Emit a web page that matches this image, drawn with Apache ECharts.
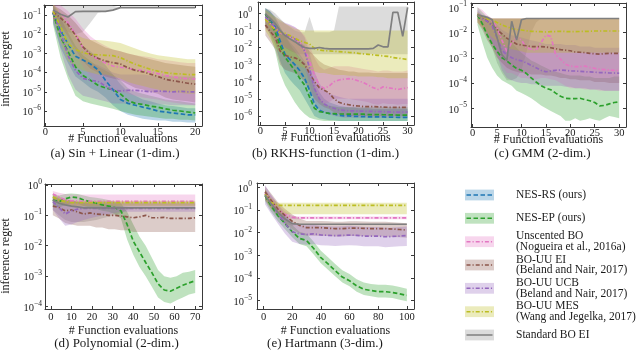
<!DOCTYPE html>
<html><head><meta charset="utf-8">
<script src="https://cdn.jsdelivr.net/npm/echarts@6/dist/echarts.min.js"></script>
<style>html,body{margin:0;padding:0;background:#fff}#c{width:640px;height:352px}</style>
</head><body><div id="c"></div>
<script>
// ---------- data ----------
const methodNames = ['NES-RS (ours)', 'NES-EP (ours)', 'Unscented BO\n(Nogueira et al., 2016a)', 'BO-UU EI\n(Beland and Nair, 2017)', 'BO-UU UCB\n(Beland and Nair, 2017)', 'BO-UU MES\n(Wang and Jegelka, 2017)', 'Standard BO EI'];
const captions = ['(a) Sin + Linear (1-dim.)', '(b) RKHS-function (1-dim.)', '(c) GMM (2-dim.)', '(d) Polynomial (2-dim.)', '(e) Hartmann (3-dim.)'];
const xAxisTitle = '# Function evaluations';
const yAxisTitle = 'inference regret';

const xTicksA = [0,5,10,15,20];
const xTicksB = [0,5,10,15,20,25,30];
const xTicksC = [0,5,10,15,20,25,30];
const xTicksD = [0,10,20,30,40,50,60,70];
const xTicksE = [0,20,40,60,80,100];

// (a) Sin + Linear
const xA = [1,2,3,4,5,6,7,8,9,10,11,12,13,14,15,16,17,18,19,20];
const aBlue = [0.13,0.016,3.2e-3,7.1e-4,4.5e-4,2.8e-4,1.4e-4,4e-5,1.3e-5,4e-6,2.5e-6,2e-6,1.6e-6,1.3e-6,1e-6,8.9e-7,7.9e-7,7.1e-7,6.3e-7,6.3e-7];
const aBlueHi = [0.32,0.1,0.025,6.3e-3,2.5e-3,1.3e-3,6.3e-4,2.5e-4,7.9e-5,2.5e-5,1e-5,6.3e-6,4e-6,3.2e-6,2.5e-6,2e-6,1.8e-6,1.6e-6,1.4e-6,1.4e-6];
const aBlueLo = [0.04,2e-3,3.2e-4,6.3e-5,3.2e-5,1.6e-5,1e-5,5e-6,2e-6,1e-6,6.3e-7,5e-7,4e-7,3.5e-7,3.2e-7,3.2e-7,2.8e-7,2.8e-7,2.5e-7,2.5e-7];
const aGreen = [0.13,7.1e-3,1.3e-3,2e-4,7.1e-5,4e-5,2.2e-5,1.6e-5,1.3e-5,7.9e-6,3.5e-6,2.5e-6,2.2e-6,1.8e-6,1.6e-6,1.3e-6,1.1e-6,1e-6,8.9e-7,7.9e-7];
const aGreenHi = [0.32,0.063,0.013,2.5e-3,7.9e-4,4e-4,2e-4,1.3e-4,7.9e-5,4e-5,1.6e-5,1e-5,7.9e-6,6.3e-6,5e-6,4e-6,3.5e-6,3.2e-6,2.8e-6,2.5e-6];
const aGreenLo = [0.032,6.3e-4,5e-5,6.3e-6,3.2e-6,2.5e-6,2e-6,1.6e-6,1.3e-6,1e-6,7.9e-7,6.3e-7,5.6e-7,5e-7,4.5e-7,4e-7,4e-7,3.5e-7,3.5e-7,3.2e-7];
const aPink = [0.17,0.13,0.04,0.01,2e-3,7.9e-4,5e-4,3.2e-4,2.2e-4,1.9e-4,1.7e-4,1.4e-4,1.3e-4,1.05e-4,8.9e-5,7.1e-5,6e-5,5.2e-5,4.8e-5,4.7e-5];
const aPinkHi = [0.4,0.32,0.16,0.063,0.02,7.9e-3,4e-3,2.5e-3,1.6e-3,1.3e-3,1e-3,7.9e-4,7.1e-4,6.3e-4,5e-4,4.5e-4,4e-4,3.5e-4,3.2e-4,3.2e-4];
const aPinkLo = [0.063,0.032,6.3e-3,1e-3,2e-4,6.3e-5,3.2e-5,2e-5,1.3e-5,1e-5,7.9e-6,6.3e-6,5e-6,4.5e-6,4e-6,3.2e-6,2.8e-6,2.5e-6,2.2e-6,2e-6];
const aBrown = [0.145,0.071,0.032,8.7e-3,2.2e-3,8.9e-4,5.6e-4,4e-4,3.3e-4,2.8e-4,1.8e-4,1.3e-4,1.1e-4,8.3e-5,6.3e-5,4.5e-5,3.8e-5,3.3e-5,2.8e-5,2.5e-5];
const aBrownHi = [0.32,0.2,0.1,0.04,0.013,5e-3,3.2e-3,2e-3,1.6e-3,1.3e-3,1e-3,7.9e-4,6.3e-4,5e-4,4e-4,3.2e-4,2.8e-4,2.5e-4,2.2e-4,2e-4];
const aBrownLo = [0.063,0.025,7.9e-3,1.6e-3,4e-4,1.6e-4,1e-4,6.3e-5,5e-5,4e-5,2.5e-5,1.6e-5,1.3e-5,1e-5,7.9e-6,5e-6,4e-6,3.5e-6,3.2e-6,2.8e-6];
const aPurple = [0.14,0.013,7.9e-4,1.3e-4,5e-5,4e-5,3.5e-5,2e-5,1.2e-5,1.1e-5,1.2e-5,1.2e-5,1.1e-5,1e-5,1.1e-5,1.05e-5,1e-5,1.05e-5,1e-5,1e-5];
const aPurpleHi = [0.4,0.1,0.01,1.6e-3,5e-4,3.2e-4,2.5e-4,1.6e-4,1e-4,7.9e-5,7.9e-5,7.9e-5,7.9e-5,7.1e-5,7.1e-5,7.1e-5,6.3e-5,6.3e-5,6.3e-5,6.3e-5];
const aPurpleLo = [0.05,1.6e-3,7.9e-5,1.3e-5,6.3e-6,5e-6,4e-6,3.2e-6,2.5e-6,2.5e-6,2.5e-6,2.5e-6,2.2e-6,2.2e-6,2.2e-6,2.2e-6,2e-6,2e-6,2e-6,2e-6];
const aOlive = [0.16,0.025,3.2e-3,1.6e-3,1.1e-3,8.9e-4,8.5e-4,7.9e-4,7.6e-4,6e-4,4e-4,2.7e-4,2e-4,1.5e-4,1.2e-4,1e-4,8.9e-5,8.5e-5,7.9e-5,7.9e-5];
const aOliveHi = [0.4,0.13,0.025,0.01,6.3e-3,5e-3,5e-3,4.5e-3,4e-3,3.5e-3,2.5e-3,1.8e-3,1.3e-3,1e-3,7.9e-4,7.1e-4,6.3e-4,5.6e-4,5e-4,5e-4];
const aOliveLo = [0.063,4e-3,4e-4,2e-4,1.3e-4,1e-4,7.9e-5,7.9e-5,6.3e-5,5e-5,3.2e-5,2.5e-5,2e-5,1.6e-5,1.3e-5,1e-5,1e-5,8.9e-6,7.9e-6,7.9e-6];
const aGray = [0.18,0.11,0.079,0.15,0.155,0.155,0.155,0.155,0.18,0.24,0.24,0.24,0.24,0.24,0.24,0.24,0.24,0.24,0.24,0.24];
const aGrayHi = [1,1,1,1,1,1,1,1,0.3,0.24,0.24,0.24,0.24,0.24,0.24,0.24,0.24,0.24,0.24,0.24];
const aGrayLo = [0.063,0.025,0.013,0.01,0.013,0.04,0.13,0.155,0.18,0.24,0.24,0.24,0.24,0.24,0.24,0.24,0.24,0.24,0.24,0.24];

// (b) RKHS-function
const xB = [1,2,3,4,5,6,7,8,9,10,11,12,13,14,15,16,17,18,19,20,21,22,23,24,25,26,27,28,29,30];
const bBlue = [0.89,0.4,0.16,0.025,4e-3,2e-3,1e-3,4.5e-4,1.6e-4,3.2e-5,5e-6,2.2e-6,1.6e-6,1.4e-6,1.3e-6,1.1e-6,1e-6,1e-6,9.5e-7,9.3e-7,9.1e-7,8.9e-7,8.9e-7,8.7e-7,8.7e-7,8.5e-7,8.5e-7,8.3e-7,8.3e-7,8.3e-7];
const bBlueHi = [2,1.26,0.63,0.16,0.05,0.02,0.01,4e-3,1.6e-3,5e-4,1e-4,2.5e-5,1e-5,6.3e-6,5e-6,4e-6,3.5e-6,3.2e-6,3.2e-6,2.8e-6,2.8e-6,2.8e-6,2.5e-6,2.5e-6,2.5e-6,2.5e-6,2.5e-6,2.5e-6,2.5e-6,2.5e-6];
const bBlueLo = [0.16,0.063,0.016,1.6e-3,3.2e-4,1.3e-4,6.3e-5,3.2e-5,1e-5,3.2e-6,1e-6,7.1e-7,6.3e-7,5.6e-7,5.6e-7,5e-7,5e-7,5e-7,5e-7,5e-7,5e-7,5e-7,5e-7,5e-7,5e-7,5e-7,5e-7,5e-7,5e-7,5e-7];
const bGreen = [0.89,0.32,0.079,0.013,2.8e-3,1.1e-3,4.5e-4,1.6e-4,6.3e-5,1.3e-5,2.8e-6,1.8e-6,1.6e-6,1.4e-6,1.35e-6,1.3e-6,1.3e-6,1.26e-6,1.26e-6,1.26e-6,1.26e-6,1.2e-6,1.2e-6,1.2e-6,1.17e-6,1.17e-6,1.15e-6,1.12e-6,1.12e-6,1.12e-6];
const bGreenHi = [2,1.26,0.5,0.16,0.05,0.016,6.3e-3,2.5e-3,1e-3,2.5e-4,5e-5,1e-5,5e-6,4e-6,3.5e-6,3.2e-6,3.2e-6,3.2e-6,3.2e-6,3.2e-6,3.2e-6,3.2e-6,3.2e-6,3.2e-6,3.2e-6,3.2e-6,3.2e-6,3.2e-6,3.2e-6,3.2e-6];
const bGreenLo = [0.25,0.05,6.3e-3,3.2e-4,6.3e-5,2e-5,6.3e-6,2.5e-6,1.3e-6,7.9e-7,6.3e-7,5.6e-7,5e-7,5e-7,5e-7,5e-7,5e-7,5e-7,5e-7,5e-7,5e-7,5e-7,5e-7,5e-7,5e-7,5e-7,5e-7,5e-7,5e-7,5e-7];
const bPink = [0.45,0.25,0.13,0.071,0.056,0.045,0.032,0.02,7.9e-3,1.6e-3,2.5e-4,6.3e-5,4e-5,5.6e-5,1e-4,1.26e-4,1.4e-4,1.5e-4,1.4e-4,1.1e-4,8.9e-5,6.3e-5,4.5e-5,3.5e-5,5e-5,4.5e-5,4e-5,3.5e-5,4e-5,4.5e-5];
const bPinkHi = [1.26,0.79,0.5,0.32,0.25,0.2,0.16,0.1,0.05,0.013,2.5e-3,7.9e-4,5e-4,6.3e-4,7.9e-4,7.9e-4,7.9e-4,7.9e-4,7.1e-4,6.3e-4,5.6e-4,5e-4,4.5e-4,4e-4,4.5e-4,4.5e-4,4e-4,4e-4,4e-4,4.5e-4];
const bPinkLo = [0.13,0.063,0.025,0.013,0.01,7.9e-3,5e-3,3.2e-3,1e-3,2e-4,3.2e-5,7.9e-6,5e-6,6.3e-6,1e-5,1e-5,1e-5,1e-5,8.9e-6,7.9e-6,7.1e-6,6.3e-6,5e-6,4.5e-6,5.6e-6,5e-6,5e-6,4.5e-6,5e-6,5e-6];
const bBrown = [0.21,0.085,0.04,6.3e-3,3.5e-3,2.8e-3,2.5e-3,1.8e-3,1e-3,3.2e-4,1e-4,4.5e-5,3.2e-5,2.2e-5,1e-5,6.3e-6,5e-6,4.5e-6,4e-6,3.8e-6,3.5e-6,3.5e-6,3.5e-6,3.4e-6,3.3e-6,3.2e-6,3.2e-6,3.2e-6,3.2e-6,3.2e-6];
const bBrownHi = [1,0.5,0.32,0.1,0.05,0.032,0.025,0.02,0.013,6.3e-3,3.2e-3,1.6e-3,1e-3,7.9e-4,6.3e-4,5e-4,4.5e-4,4e-4,4e-4,3.5e-4,3.5e-4,3.5e-4,3.2e-4,3.2e-4,3.2e-4,3.2e-4,3.2e-4,3.2e-4,3.2e-4,3.2e-4];
const bBrownLo = [0.05,0.02,7.9e-3,1e-3,5e-4,4e-4,3.2e-4,2e-4,1e-4,3.2e-5,1e-5,5e-6,3.2e-6,2.5e-6,1.6e-6,1.3e-6,1.1e-6,1e-6,1e-6,1e-6,1e-6,1e-6,1e-6,1e-6,1e-6,1e-6,1e-6,1e-6,1e-6,1e-6];
const bPurple = [0.63,0.32,0.14,0.079,0.056,0.045,0.032,0.018,6.3e-3,6.3e-4,4e-5,1e-5,5e-6,3.5e-6,2.8e-6,2.2e-6,2.1e-6,2e-6,2e-6,1.9e-6,1.9e-6,1.86e-6,1.82e-6,1.78e-6,1.78e-6,1.74e-6,1.7e-6,1.66e-6,1.66e-6,1.7e-6];
const bPurpleHi = [2,1.26,0.63,0.4,0.28,0.22,0.16,0.1,0.04,5e-3,4e-4,7.9e-5,3.2e-5,2e-5,1.6e-5,1.3e-5,1.1e-5,1e-5,1e-5,1e-5,1e-5,1e-5,1e-5,1e-5,1e-5,1e-5,1e-5,1e-5,1e-5,1e-5];
const bPurpleLo = [0.16,0.079,0.032,0.016,0.01,7.9e-3,5e-3,2.5e-3,7.9e-4,7.9e-5,6.3e-6,2.5e-6,1.6e-6,1.3e-6,1e-6,8.9e-7,7.9e-7,7.9e-7,7.9e-7,7.9e-7,7.9e-7,7.9e-7,7.9e-7,7.9e-7,7.9e-7,7.9e-7,7.9e-7,7.9e-7,7.9e-7,7.9e-7];
const bOlive = [0.45,0.2,0.11,0.079,0.068,0.05,0.035,0.025,0.02,0.016,8.9e-3,7.1e-3,6.6e-3,6.3e-3,6e-3,5.8e-3,5.5e-3,5.2e-3,5e-3,4.5e-3,4.2e-3,4e-3,3.7e-3,3.5e-3,3.2e-3,3e-3,2.6e-3,2.4e-3,2.2e-3,2e-3];
const bOliveHi = [1.6,1,0.63,0.4,0.25,0.18,0.13,0.11,0.1,0.1,0.1,0.1,0.1,0.1,0.1,0.1,0.1,0.1,0.1,0.1,0.1,0.1,0.1,0.1,0.1,0.1,0.1,0.1,0.1,0.1];
const bOliveLo = [0.1,0.032,0.01,5e-3,3.2e-3,2e-3,1.3e-3,7.9e-4,6.3e-4,5e-4,4e-4,3.2e-4,3.2e-4,2.8e-4,2.5e-4,2.5e-4,2.5e-4,2.2e-4,2.2e-4,2e-4,2e-4,2e-4,2e-4,1.8e-4,1.8e-4,1.6e-4,1.6e-4,1.6e-4,1.6e-4,1.6e-4];
const bGray = [0.89,0.5,0.25,0.1,0.05,0.032,0.022,0.014,0.01,8.9e-3,8.9e-3,0.01,8.9e-3,8.3e-3,8.3e-3,8.3e-3,8.3e-3,8.3e-3,8.3e-3,8.3e-3,8.3e-3,8.3e-3,8.9e-3,0.014,0.011,0.011,1.12,1.12,0.045,2.24];
const bGrayHi = [2,1.6,1,0.5,0.25,0.16,0.1,0.079,0.079,0.63,0.079,0.079,0.079,0.079,0.1,2.5,2.5,2.5,2.5,2.5,2.5,2.5,2.5,2.5,2.5,2.5,2.5,2.5,2.5,2.5];
const bGrayLo = [0.4,0.16,0.063,0.025,0.01,6.3e-3,5e-3,4e-3,4e-3,4e-3,4e-3,4e-3,4e-3,4e-3,4e-3,4e-3,4e-3,4e-3,4e-3,4e-3,4e-3,4e-3,4e-3,4e-3,4e-3,4e-3,4e-3,4e-3,4e-3,4e-3];

// (c) GMM
const xC = [1,2,3,4,5,6,7,8,9,10,11,12,13,14,15,16,17,18,19,20,21,22,23,24,25,26,27,28,29,30];
const cGreen = [0.05,0.022,7.9e-3,3.5e-3,1.8e-3,1e-3,7.6e-4,5.2e-4,3.8e-4,3.2e-4,2.4e-4,1.6e-4,1.1e-4,7.9e-5,6.3e-5,5.4e-5,4e-5,3e-5,2.5e-5,2.4e-5,2.4e-5,2.5e-5,2.2e-5,2e-5,1.7e-5,1.26e-5,1.3e-5,1.5e-5,1.7e-5,1.8e-5];
const cGreenHi = [0.1,0.063,0.04,0.025,0.016,0.01,6.3e-3,4e-3,2.5e-3,1.6e-3,1.1e-3,7.9e-4,6.3e-4,5e-4,4e-4,3.2e-4,2.8e-4,2.5e-4,2.2e-4,2e-4,2e-4,2e-4,1.8e-4,1.8e-4,1.6e-4,1.6e-4,1.6e-4,1.6e-4,1.8e-4,1.8e-4];
const cGreenLo = [0.02,4e-3,1e-3,4e-4,2e-4,1.3e-4,1e-4,7.9e-5,5e-5,4e-5,3.2e-5,2.5e-5,1.8e-5,1.3e-5,1e-5,7.9e-6,6.3e-6,5e-6,3.2e-6,3.2e-6,4e-6,3.2e-6,3.5e-6,4e-6,3.5e-6,3.2e-6,4e-6,5e-6,4.5e-6,4e-6];
const cPink = [0.05,0.042,0.036,0.028,0.016,5e-3,1.8e-3,4e-3,6.3e-3,5e-3,2.5e-3,2.2e-3,2e-3,4e-3,7.9e-3,7.1e-3,1.3e-3,8.9e-4,5.6e-4,4.7e-4,4.5e-4,4.5e-4,4.7e-4,4.2e-4,3.8e-4,3.5e-4,3.4e-4,3.3e-4,3.2e-4,3.2e-4];
const cPinkHi = [0.1,0.079,0.05,0.036,0.036,0.036,0.036,0.036,0.036,0.036,0.036,0.036,0.036,0.036,0.036,0.036,0.036,0.036,0.036,0.036,0.036,0.036,0.036,0.036,0.036,0.036,0.036,0.036,0.036,0.036];
const cPinkLo = [0.025,0.016,0.01,4e-3,1.3e-3,5e-4,2.5e-4,2.5e-4,2e-4,1.6e-4,1.6e-4,1.4e-4,1.4e-4,1.6e-4,1.6e-4,1.4e-4,1.3e-4,1e-4,7.9e-5,6.3e-5,6.3e-5,6.3e-5,5.6e-5,5.6e-5,5.6e-5,5e-5,5e-5,5e-5,5e-5,5e-5];
const cBrown = [0.05,0.04,0.028,0.02,0.013,8.9e-3,6e-3,4.5e-3,3.5e-3,3.2e-3,3e-3,2.8e-3,2.75e-3,2.75e-3,2.7e-3,2.5e-3,2.3e-3,2.1e-3,2e-3,1.9e-3,1.7e-3,1.66e-3,1.6e-3,1.5e-3,1.45e-3,1.4e-3,1.45e-3,1.5e-3,1.5e-3,1.5e-3];
const cBrownHi = [0.063,0.045,0.036,0.036,0.036,0.036,0.036,0.036,0.036,0.036,0.036,0.036,0.036,0.036,0.036,0.036,0.036,0.036,0.036,0.036,0.036,0.036,0.036,0.036,0.036,0.036,0.036,0.036,0.036,0.036];
const cBrownLo = [0.025,0.013,5e-3,2.5e-3,1e-3,6.3e-4,4e-4,3.2e-4,2.8e-4,2.5e-4,2.5e-4,2.2e-4,2.2e-4,2.2e-4,2e-4,2e-4,1.8e-4,1.6e-4,1.6e-4,1.4e-4,1.4e-4,1.3e-4,1.3e-4,1.3e-4,1.1e-4,1.1e-4,1.1e-4,1e-4,1e-4,1e-4];
const cPurple = [0.05,0.035,0.028,0.018,6.3e-3,2e-3,1.3e-3,1e-3,8.5e-4,7.6e-4,6.3e-4,5e-4,4e-4,3.2e-4,2.8e-4,3e-4,3.2e-4,3.3e-4,3.2e-4,3e-4,3e-4,2.9e-4,2.8e-4,2.75e-4,2.7e-4,2.6e-4,2.6e-4,2.5e-4,2.5e-4,2.45e-4];
const cPurpleHi = [0.079,0.05,0.036,0.032,0.02,0.013,0.01,7.9e-3,7.1e-3,6.3e-3,5.6e-3,5e-3,4.5e-3,4e-3,3.5e-3,3.5e-3,3.5e-3,3.5e-3,3.2e-3,3.2e-3,3.2e-3,2.8e-3,2.8e-3,2.8e-3,2.5e-3,2.5e-3,2.5e-3,2.5e-3,2.5e-3,2.5e-3];
const cPurpleLo = [0.032,0.02,0.01,4e-3,1.3e-3,3.2e-4,1.6e-4,1.3e-4,1.1e-4,1e-4,1e-4,8.9e-5,8.9e-5,7.9e-5,7.9e-5,7.9e-5,7.9e-5,7.9e-5,7.1e-5,7.1e-5,6.3e-5,6.3e-5,6.3e-5,5.6e-5,5.6e-5,5.6e-5,5e-5,5e-5,5e-5,5e-5];
const cOlive = [0.05,0.042,0.035,0.032,0.025,0.02,0.017,0.0145,0.013,0.0126,0.0117,0.0112,0.011,0.0108,0.0105,0.0108,0.011,0.0112,0.011,0.0108,0.0108,0.011,0.0112,0.0112,0.0115,0.0115,0.0115,0.0115,0.0115,0.0115];
const cOliveHi = [0.063,0.045,0.036,0.036,0.036,0.036,0.036,0.036,0.036,0.036,0.036,0.036,0.036,0.036,0.036,0.036,0.036,0.036,0.036,0.036,0.036,0.036,0.036,0.036,0.036,0.036,0.036,0.036,0.036,0.036];
const cOliveLo = [0.025,0.016,0.01,6.3e-3,4.5e-3,3.2e-3,2.5e-3,2.2e-3,2e-3,1.8e-3,1.6e-3,1.6e-3,1.6e-3,1.6e-3,1.6e-3,1.6e-3,1.6e-3,1.6e-3,1.6e-3,1.6e-3,1.6e-3,1.6e-3,1.6e-3,1.6e-3,1.6e-3,1.6e-3,1.6e-3,1.6e-3,1.6e-3,1.6e-3];
const cGray = [0.05,0.045,0.04,0.032,6.3e-3,1.3e-3,7.9e-4,0.028,5e-3,0.032,0.036,0.036,0.036,0.036,0.036,0.036,0.036,0.036,0.036,0.036,0.036,0.036,0.036,0.036,0.036,0.036,0.036,0.036,0.036,0.036];
const cGrayHi = [0.055,0.05,0.045,0.036,0.036,0.036,0.036,0.036,0.036,0.036,0.036,0.036,0.036,0.036,0.036,0.036,0.036,0.036,0.036,0.036,0.036,0.036,0.036,0.036,0.036,0.036,0.036,0.036,0.036,0.036];
const cGrayLo = [0.032,0.016,6.3e-3,2.5e-3,6.3e-4,2.5e-4,1.3e-4,1.3e-4,1.6e-4,3.2e-4,1.6e-3,0.01,0.025,0.036,0.036,0.036,0.036,0.036,0.036,0.036,0.036,0.036,0.036,0.036,0.036,0.036,0.036,0.036,0.036,0.036];

// (d) Polynomial
const xD = [1,4,7,10,13,16,19,22,25,28,31,34,37,40,43,46,49,52,55,58,61,64,67,70];
const dGreen = [0.32,0.28,0.35,0.4,0.38,0.32,0.28,0.25,0.22,0.2,0.18,0.14,0.05,0.014,6.3e-3,2.8e-3,1.3e-3,5.6e-4,3.5e-4,3.2e-4,4e-4,5e-4,6e-4,7.1e-4];
const dGreenHi = [0.5,0.45,0.5,0.52,0.5,0.45,0.4,0.38,0.35,0.32,0.28,0.25,0.13,0.05,0.02,0.01,4e-3,1.6e-3,1e-3,8.9e-4,1e-3,1.3e-3,1.4e-3,1.6e-3];
const dGreenLo = [0.2,0.18,0.22,0.25,0.25,0.2,0.18,0.16,0.14,0.13,0.11,0.079,0.016,5e-3,2e-3,1e-3,4.5e-4,2e-4,1.4e-4,1.26e-4,1.6e-4,2e-4,2.5e-4,2.8e-4];
const dPink = [0.5,0.4,0.32,0.3,0.29,0.29,0.29,0.29,0.29,0.29,0.29,0.29,0.29,0.29,0.29,0.29,0.29,0.29,0.29,0.29,0.29,0.29,0.29,0.29];
const dPinkHi = [0.63,0.55,0.5,0.48,0.48,0.48,0.48,0.48,0.48,0.48,0.48,0.48,0.48,0.48,0.48,0.48,0.48,0.48,0.48,0.48,0.48,0.48,0.48,0.48];
const dPinkLo = [0.3,0.25,0.22,0.21,0.21,0.21,0.21,0.21,0.21,0.21,0.21,0.21,0.21,0.21,0.21,0.21,0.21,0.21,0.21,0.21,0.21,0.21,0.21,0.21];
const dBrown = [0.2,0.18,0.14,0.15,0.13,0.11,0.12,0.11,0.107,0.1,0.1,0.095,0.089,0.083,0.089,0.1,0.083,0.083,0.085,0.079,0.079,0.079,0.079,0.083];
const dBrownHi = [0.4,0.35,0.32,0.32,0.28,0.28,0.28,0.28,0.28,0.28,0.28,0.28,0.28,0.28,0.28,0.28,0.28,0.28,0.28,0.28,0.28,0.28,0.28,0.28];
const dBrownLo = [0.1,0.079,0.056,0.05,0.045,0.045,0.045,0.04,0.04,0.035,0.035,0.032,0.032,0.028,0.028,0.028,0.028,0.028,0.028,0.028,0.028,0.028,0.028,0.028];
const dPurple = [0.28,0.18,0.11,0.14,0.16,0.17,0.17,0.17,0.17,0.17,0.17,0.17,0.17,0.17,0.17,0.17,0.17,0.17,0.17,0.17,0.17,0.17,0.17,0.17];
const dPurpleHi = [0.45,0.35,0.28,0.28,0.27,0.26,0.25,0.25,0.25,0.25,0.25,0.25,0.25,0.25,0.25,0.25,0.25,0.25,0.25,0.25,0.25,0.25,0.25,0.25];
const dPurpleLo = [0.15,0.08,0.045,0.05,0.06,0.07,0.08,0.09,0.1,0.11,0.12,0.13,0.13,0.13,0.13,0.13,0.13,0.13,0.13,0.13,0.13,0.13,0.13,0.13];
const dOlive = [0.4,0.32,0.28,0.26,0.26,0.26,0.26,0.26,0.26,0.26,0.26,0.26,0.26,0.26,0.26,0.26,0.26,0.26,0.26,0.26,0.26,0.26,0.26,0.26];
const dOliveHi = [0.5,0.4,0.33,0.3,0.3,0.3,0.3,0.3,0.3,0.3,0.3,0.3,0.3,0.3,0.3,0.3,0.3,0.3,0.3,0.3,0.3,0.3,0.3,0.3];
const dOliveLo = [0.3,0.24,0.21,0.2,0.2,0.2,0.2,0.2,0.2,0.2,0.2,0.2,0.2,0.2,0.2,0.2,0.2,0.2,0.2,0.2,0.2,0.2,0.2,0.2];
const dGray = [0.32,0.25,0.22,0.2,0.19,0.175,0.175,0.175,0.175,0.175,0.175,0.175,0.175,0.175,0.175,0.175,0.175,0.175,0.175,0.175,0.175,0.175,0.175,0.175];
const dGrayHi = [0.45,0.4,0.35,0.3,0.28,0.26,0.25,0.24,0.23,0.22,0.21,0.2,0.19,0.18,0.175,0.175,0.175,0.175,0.175,0.175,0.175,0.175,0.175,0.175];
const dGrayLo = [0.15,0.1,0.07,0.06,0.06,0.06,0.065,0.07,0.08,0.09,0.1,0.12,0.15,0.17,0.175,0.175,0.175,0.175,0.175,0.175,0.175,0.175,0.175,0.175];

// (e) Hartmann
const xE = [1,5,10,15,20,25,30,35,40,45,50,55,60,65,70,75,80,85,90,95,100];
const eGreen = [0.43,0.16,0.056,0.025,0.011,5.6e-3,4.5e-3,2e-3,7.9e-4,4.2e-4,2.1e-4,1.1e-4,7.6e-5,4.5e-5,3.2e-5,2.8e-5,2.5e-5,2.5e-5,2.3e-5,2e-5,1.7e-5];
const eGreenHi = [0.85,0.32,0.11,0.05,0.022,0.011,8.9e-3,4e-3,1.6e-3,8.3e-4,4.2e-4,2.2e-4,1.5e-4,8.9e-5,6.3e-5,5.5e-5,5e-5,5e-5,4.7e-5,4e-5,3.4e-5];
const eGreenLo = [0.24,0.089,0.032,0.014,6.3e-3,3.2e-3,2.5e-3,1.1e-3,4.5e-4,2.3e-4,1.2e-4,6.3e-5,4.3e-5,2.5e-5,1.8e-5,1.55e-5,1.4e-5,1.4e-5,1.3e-5,1.1e-5,9.5e-6];
const ePink = [0.56,0.28,0.11,0.063,0.047,0.045,0.045,0.045,0.045,0.045,0.045,0.045,0.045,0.045,0.045,0.045,0.045,0.045,0.045,0.045,0.045];
const ePinkHi = [0.8,0.45,0.18,0.085,0.056,0.052,0.052,0.052,0.052,0.052,0.052,0.052,0.052,0.052,0.052,0.052,0.052,0.052,0.052,0.052,0.052];
const ePinkLo = [0.35,0.18,0.065,0.045,0.04,0.039,0.039,0.039,0.039,0.039,0.039,0.039,0.039,0.039,0.039,0.039,0.039,0.039,0.039,0.039,0.039];
const eBrown = [0.63,0.28,0.11,0.056,0.032,0.021,0.0166,0.0166,0.0166,0.0158,0.0151,0.0151,0.0158,0.0158,0.0155,0.0151,0.0151,0.0151,0.0145,0.0138,0.0132];
const eBrownHi = [1.12,0.56,0.22,0.11,0.063,0.042,0.033,0.033,0.033,0.032,0.03,0.03,0.032,0.032,0.031,0.03,0.03,0.03,0.029,0.0275,0.026];
const eBrownLo = [0.28,0.126,0.05,0.025,0.014,9.3e-3,7.4e-3,7.4e-3,7.4e-3,7.1e-3,6.8e-3,6.8e-3,7.1e-3,7.1e-3,6.9e-3,6.8e-3,6.8e-3,6.8e-3,6.5e-3,6.2e-3,5.9e-3];
const ePurple = [0.5,0.2,0.071,0.025,0.011,8.9e-3,8.3e-3,8.9e-3,7.9e-3,7.6e-3,7.4e-3,7.6e-3,7.9e-3,7.6e-3,7.1e-3,7.1e-3,7.1e-3,6.6e-3,6.8e-3,7.1e-3,7.4e-3];
const ePurpleHi = [1.26,0.5,0.18,0.063,0.028,0.022,0.021,0.022,0.02,0.019,0.0185,0.019,0.02,0.019,0.018,0.018,0.018,0.0165,0.017,0.018,0.0185];
const ePurpleLo = [0.18,0.071,0.025,8.9e-3,4e-3,3.2e-3,2.9e-3,3.2e-3,2.8e-3,2.7e-3,2.6e-3,2.7e-3,2.8e-3,2.7e-3,2.5e-3,2.5e-3,2.5e-3,2.3e-3,2.4e-3,2.5e-3,2.6e-3];
const eOlive = [0.5,0.22,0.16,0.16,0.16,0.16,0.16,0.16,0.16,0.16,0.16,0.16,0.16,0.16,0.16,0.16,0.16,0.16,0.16,0.16,0.16];
const eOliveHi = [0.8,0.35,0.21,0.21,0.21,0.21,0.21,0.21,0.21,0.21,0.21,0.21,0.21,0.21,0.21,0.21,0.21,0.21,0.21,0.21,0.21];
const eOliveLo = [0.3,0.12,0.065,0.065,0.065,0.065,0.065,0.065,0.065,0.065,0.065,0.065,0.065,0.065,0.065,0.065,0.065,0.065,0.065,0.065,0.065];
const eGray = [0.45,0.2,0.079,0.04,0.025,0.0235,0.0235,0.0235,0.0235,0.0235,0.0235,0.0235,0.0235,0.0235,0.0235,0.0235,0.0235,0.0235,0.0235,0.0235,0.0235];
const eGrayHi = [0.7,0.32,0.13,0.06,0.032,0.0235,0.0235,0.0235,0.0235,0.0235,0.0235,0.0235,0.0235,0.0235,0.0235,0.0235,0.0235,0.0235,0.0235,0.0235,0.0235];
const eGrayLo = [0.28,0.12,0.045,0.025,0.02,0.0235,0.0235,0.0235,0.0235,0.0235,0.0235,0.0235,0.0235,0.0235,0.0235,0.0235,0.0235,0.0235,0.0235,0.0235,0.0235];

// ---------- styling ----------
const FONT = '"Liberation Serif", "Times New Roman", serif';
const TXT = '#1a1a1a';
const AXC = '#3a3a3a';
const COLORS = ['#1f77b4','#2ca02c','#e377c2','#8c564b','#9467bd','#bcbd22','#7f7f7f'];
const DASHES = [[4.5,2.5],[4.5,2.5],[4,2,1.2,2],[4,2,1.2,2],[4,2,1.2,2],[4,2,1.2,2],'solid'];
const BAND_ALPHA = 0.3;
function rgba(hex, a) {
  const n = parseInt(hex.slice(1), 16);
  return 'rgba(' + ((n >> 16) & 255) + ',' + ((n >> 8) & 255) + ',' + (n & 255) + ',' + a + ')';
}

const panels = [
  { grid: [44, 5, 158, 121], xr: [-0.2, 20.9], yr: [1.66e-7, 0.331], xt: xTicksA, xs: xA, ylm: 3, xlm: 1, ng: 7,
    items: [[6, aGray, aGrayLo, aGrayHi],[0, aBlue, aBlueLo, aBlueHi],[1, aGreen, aGreenLo, aGreenHi],[2, aPink, aPinkLo, aPinkHi],[3, aBrown, aBrownLo, aBrownHi],[4, aPurple, aPurpleLo, aPurpleHi],[5, aOlive, aOliveLo, aOliveHi]] },
  { grid: [258, 2, 156, 123], xr: [-0.5, 31.3], yr: [2.95e-7, 4.57], xt: xTicksB, xs: xB, ylm: 6, xlm: 1, ng: 7,
    items: [[6, bGray, bGrayLo, bGrayHi],[0, bBlue, bBlueLo, bBlueHi],[1, bGreen, bGreenLo, bGreenHi],[2, bPink, bPinkLo, bPinkHi],[3, bBrown, bBrownLo, bBrownHi],[4, bPurple, bPurpleLo, bPurpleHi],[5, bOlive, bOliveLo, bOliveHi]] },
  { grid: [471, 3, 155, 124], xr: [-0.33, 31.4], yr: [1.82e-6, 0.148], xt: xTicksC, xs: xC, ylm: 4, xlm: 1, ng: 7,
    items: [[6, cGray, cGrayLo, cGrayHi],[1, cGreen, cGreenLo, cGreenHi],[2, cPink, cPinkLo, cPinkHi],[3, cBrown, cBrownLo, cBrownHi],[4, cPurple, cPurpleLo, cPurpleHi],[5, cOlive, cOliveLo, cOliveHi]] },
  { grid: [45, 184, 157, 125], xr: [-2.8, 73.3], yr: [8.3e-5, 1.07], xt: xTicksD, xs: xD, ylm: 3, xlm: 2.5, ng: 16,
    items: [[6, dGray, dGrayLo, dGrayHi],[1, dGreen, dGreenLo, dGreenHi],[2, dPink, dPinkLo, dPinkHi],[3, dBrown, dBrownLo, dBrownHi],[4, dPurple, dPurpleLo, dPurpleHi],[5, dOlive, dOliveLo, dOliveHi]] },
  { grid: [257, 183, 157, 126], xr: [-4.6, 105], yr: [4.3e-6, 1.55], xt: xTicksE, xs: xE, ylm: 5, xlm: 2.5, ng: 16,
    items: [[6, eGray, eGrayLo, eGrayHi],[1, eGreen, eGreenLo, eGreenHi],[2, ePink, ePinkLo, ePinkHi],[3, eBrown, eBrownLo, eBrownHi],[4, ePurple, ePurpleLo, ePurpleHi],[5, eOlive, eOliveLo, eOliveHi]] }
];

function expLabel(v) {
  const e = Math.log10(v);
  const r = Math.round(e);
  if (Math.abs(e - r) > 1e-3) return '';
  return '{b|10}{e|' + (r < 0 ? '\u2212' + (-r) : String(r)) + '}';
}
const expRich = {
  b: { fontFamily: FONT, fontSize: 10.5, color: TXT, lineHeight: 14, verticalAlign: 'bottom' },
  e: { fontFamily: FONT, fontSize: 7.5, color: TXT, lineHeight: 14, verticalAlign: 'top' }
};

const grids = [], xAxes = [], yAxes = [], series = [];
panels.forEach((p, k) => {
  grids.push({ left: p.grid[0], top: p.grid[1], width: p.grid[2], height: p.grid[3], containLabel: false });
  const lineSty = { color: AXC, width: 1 };
  xAxes.push({
    type: 'value', gridIndex: k, position: 'bottom', min: p.xr[0], max: p.xr[1],
    axisLine: { show: true, onZero: false, lineStyle: lineSty },
    axisTick: { show: true, inside: true, length: 3, customValues: p.xt, lineStyle: lineSty },
    axisLabel: { show: true, customValues: p.xt, margin: p.xlm, fontFamily: FONT, fontSize: 10.5, color: TXT },
    splitLine: { show: false },
    name: xAxisTitle, nameLocation: 'middle', nameGap: p.ng, nameMoveOverlap: false,
    nameTextStyle: { fontFamily: FONT, fontSize: 12, color: TXT }
  });
  xAxes.push({
    type: 'value', gridIndex: k, position: 'top', min: p.xr[0], max: p.xr[1],
    axisLine: { show: true, onZero: false, lineStyle: lineSty },
    axisTick: { show: true, inside: true, length: 3, customValues: p.xt, lineStyle: lineSty },
    axisLabel: { show: false }, splitLine: { show: false }
  });
  yAxes.push({
    type: 'log', logBase: 10, gridIndex: k, position: 'left', min: p.yr[0], max: p.yr[1],
    axisLine: { show: true, onZero: false, lineStyle: lineSty },
    axisTick: { show: true, inside: true, length: 3, lineStyle: lineSty },
    axisLabel: { show: true, margin: p.ylm, formatter: expLabel, rich: expRich },
    splitLine: { show: false }
  });
  yAxes.push({
    type: 'log', logBase: 10, gridIndex: k, position: 'right', min: p.yr[0], max: p.yr[1],
    axisLine: { show: true, onZero: false, lineStyle: lineSty },
    axisTick: { show: true, inside: true, length: 3, lineStyle: lineSty },
    axisLabel: { show: false }, splitLine: { show: false }
  });
  const xi = 2 * k, yi = 2 * k;
  // bands
  p.items.forEach(([m, mean, lo, hi]) => {
    const xs = p.xs;
    series.push({
      type: 'custom', xAxisIndex: xi, yAxisIndex: yi, clip: true, silent: true, z: 1,
      data: xs.map((x, i) => [x, lo[i], hi[i]]),
      encode: { x: 0, y: [1, 2] },
      renderItem: function (params, api) {
        if (params.dataIndex !== 0) return null;
        const pts = [];
        for (let i = 0; i < xs.length; i++) pts.push(api.coord([xs[i], hi[i]]));
        for (let i = xs.length - 1; i >= 0; i--) pts.push(api.coord([xs[i], lo[i]]));
        return { type: 'polygon', shape: { points: pts }, style: { fill: rgba(COLORS[m], m === 6 ? 0.27 : BAND_ALPHA) } };
      }
    });
  });
  // mean lines (standard BO EI last so it sits on top)
  const order = p.items.slice(1).concat([p.items[0]]);
  order.forEach(([m, mean]) => {
    series.push({
      type: 'line', xAxisIndex: xi, yAxisIndex: yi, clip: true, silent: true, z: 3,
      data: p.xs.map((x, i) => [x, mean[i]]),
      showSymbol: false, symbol: 'none',
      lineStyle: { color: COLORS[m], width: 1.7, type: DASHES[m] }
    });
  });
});

// captions, y titles, legend (as graphic text/shapes)
const graphics = [];
const capPos = [[115, 153.5], [325.5, 153.5], [542.5, 153.5], [116.5, 344], [325, 344]];
captions.forEach((c, i) => {
  graphics.push({ type: 'text', x: capPos[i][0], y: capPos[i][1], silent: true,
    style: { text: c, font: '13px ' + FONT, fill: TXT, align: 'center', verticalAlign: 'middle', textAlign: 'center', textVerticalAlign: 'middle' } });
});
[[5.5, 69], [5.5, 256]].forEach(([x, y]) => {
  graphics.push({ type: 'text', x: x, y: y, rotation: Math.PI / 2, silent: true,
    style: { text: yAxisTitle, font: '12px ' + FONT, fill: TXT, align: 'center', verticalAlign: 'middle', textAlign: 'center', textVerticalAlign: 'middle' } });
});
const legY = [195, 218.3, 241.7, 265, 288.3, 311.7, 335];
methodNames.forEach((name, i) => {
  const cy = legY[i];
  graphics.push({ type: 'rect', silent: true, shape: { x: 465, y: cy - 5.4, width: 29, height: 10.8 },
    style: { fill: rgba(COLORS[i], i === 6 ? 0.27 : BAND_ALPHA) } });
  graphics.push({ type: 'line', silent: true, shape: { x1: 466.5, y1: cy, x2: 492.5, y2: cy },
    style: { stroke: COLORS[i], lineWidth: 1.5, lineDash: DASHES[i] === 'solid' ? null : DASHES[i] } });
  graphics.push({ type: 'text', x: 516, y: cy, silent: true,
    style: { text: name, font: '11.5px ' + FONT, fill: TXT, lineHeight: 10.7, align: 'left', verticalAlign: 'middle', textAlign: 'left', textVerticalAlign: 'middle' } });
});

const chart = echarts.init(document.getElementById('c'), null, { renderer: 'canvas' });
chart.setOption({
  backgroundColor: '#ffffff',
  animation: false,
  grid: grids,
  xAxis: xAxes,
  yAxis: yAxes,
  series: series,
  graphic: { elements: graphics }
});
</script></body></html>
